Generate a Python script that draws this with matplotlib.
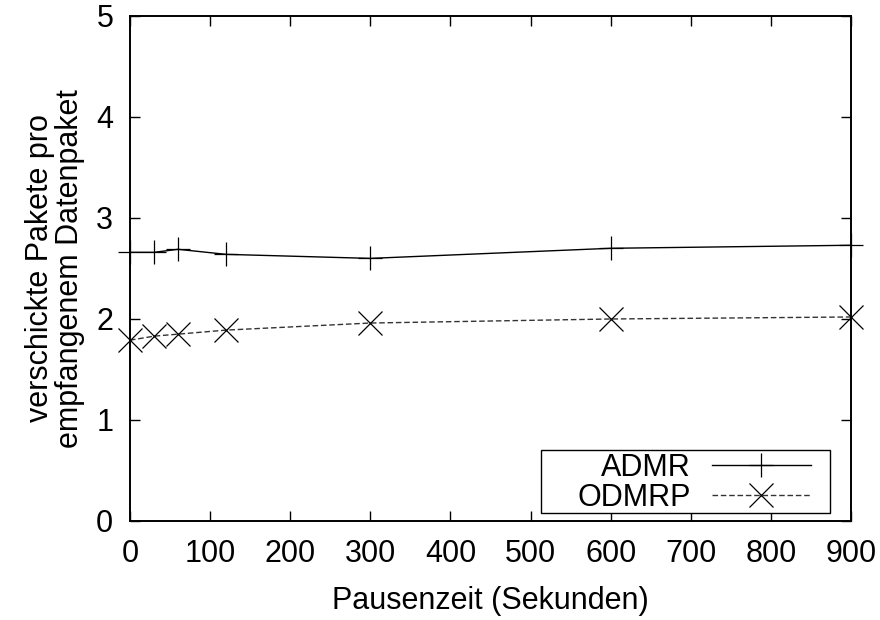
import matplotlib
matplotlib.use("Agg")
import matplotlib.pyplot as plt
from matplotlib.patches import Rectangle

# ── Data ──────────────────────────────────────────────────────────────────────

pause_times = [0, 30, 60, 120, 300, 600, 900]
admr = [2.66, 2.66, 2.69, 2.64, 2.60, 2.70, 2.73]
odmrp = [1.79, 1.83, 1.85, 1.89, 1.96, 2.00, 2.02]

x_ticks = [0, 100, 200, 300, 400, 500, 600, 700, 800, 900]
y_ticks = [0, 1, 2, 3, 4, 5]

FS = 22

# ── Plot ──────────────────────────────────────────────────────────────────────

plt.rcParams["font.family"] = ["Liberation Sans", "DejaVu Sans"]

fig = plt.figure(figsize=(8.8, 6.2), dpi=100)
ax = fig.add_axes([0.1477, 0.1597, 0.8193, 0.8145])

ax.plot(pause_times, admr, color="black", linewidth=1.0, marker="+",
        markersize=17, markeredgewidth=0.9, label="ADMR", clip_on=False)
ax.plot(pause_times, odmrp, color="#333333", linewidth=1.0, linestyle=(0, (4, 2)),
        marker="x", markersize=17, markeredgewidth=0.9, markeredgecolor="black",
        label="ODMRP", clip_on=False)

ax.set_xlim(0, 900)
ax.set_ylim(0, 5)
ax.set_xticks(x_ticks)
ax.set_yticks(y_ticks)

ax.tick_params(direction="in", length=7, width=1.0, labelsize=FS,
               top=True, right=True)
ax.tick_params(axis="x", pad=13)
ax.tick_params(axis="y", pad=12)
for s in ax.spines.values():
    s.set_linewidth(1.4)

ax.set_xlabel("Pausenzeit (Sekunden)", fontsize=FS, labelpad=12)
ax.set_ylabel("verschickte Pakete pro\nempfangenem Datenpaket", fontsize=FS,
              labelpad=8, linespacing=1.0)

# gnuplot-style key: text left, sample right, wide box
leg = ax.legend(loc="lower right", bbox_to_anchor=(0.949, 0.010), fontsize=FS,
                markerfirst=False, frameon=False,
                handlelength=3.25, borderpad=0.1, labelspacing=0.0,
                handletextpad=0.69, borderaxespad=0)
for t in leg.get_texts():
    t.set_ha("right")
ax.add_patch(Rectangle((0.570, 0.016), 0.401, 0.125, transform=ax.transAxes,
                       facecolor="white", edgecolor="black", linewidth=1.0,
                       zorder=4))
leg.set_zorder(5)

fig.savefig("out.png", dpi=100)
